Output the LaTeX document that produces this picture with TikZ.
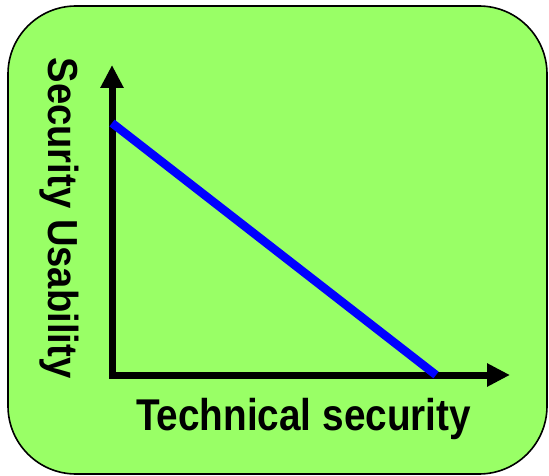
\documentclass[tikz,border=0pt]{standalone}
\usepackage{fontspec}
\setmainfont{Liberation Sans}
\usetikzlibrary{arrows.meta}
\definecolor{boxgreen}{RGB}{153,255,102}
\definecolor{lineblue}{RGB}{0,0,255}
\tikzset{
  panel/.style={draw=black, line width=1.6pt, fill=boxgreen, rounded corners=68pt},
  axis/.style={draw=black, line width=7pt, miter limit=10,
    {Triangle[length=23pt,width=22pt]}-{Triangle[length=23pt,width=22pt]}},
  trend/.style={draw=lineblue, line width=8.5pt},
  label/.style={inner sep=0pt, outer sep=0pt, text=black}
}
\begin{document}
\begin{tikzpicture}[x=1pt,y=-1pt]
\useasboundingbox (0,0) rectangle (549,476);
\draw[panel] (8,6) rectangle (547,474);
\coordinate (ytip) at (112,65);
\coordinate (origin) at (112,375);
\coordinate (xtip) at (510,375);
\coordinate (trendstart) at (112,123);
\coordinate (trendend) at (436,375);
\draw[axis] (ytip) -- (origin) -- (xtip);
\draw[trend] (trendstart) -- (trendend);
\node[label, anchor=base, rotate=-90, font=\bfseries\fontsize{42pt}{48pt}\selectfont] (ylabel) at (48,218) {\scalebox{0.91}[1]{Security Usability}};
\node[label, anchor=base, font=\bfseries\fontsize{44.5pt}{50pt}\selectfont] (xlabel) at (303.5,430) {\scalebox{0.87}[1]{Technical security}};
\end{tikzpicture}
\end{document}
